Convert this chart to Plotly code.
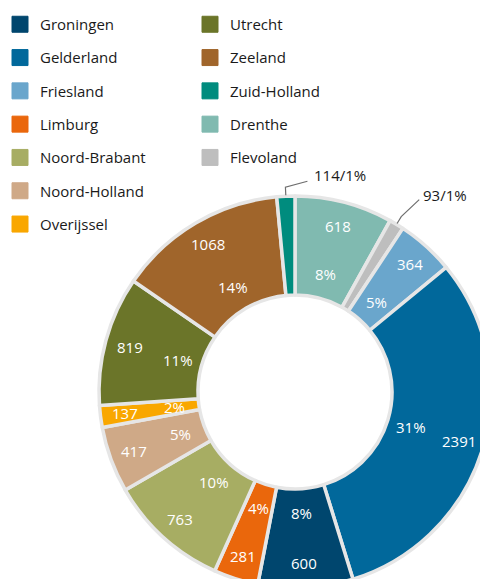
import numpy as np
import plotly.graph_objects as go

# ---------------- data ----------------
provinces = ["Drenthe", "Flevoland", "Friesland", "Gelderland", "Groningen", "Limburg",
             "Noord-Brabant", "Noord-Holland", "Overijssel", "Utrecht", "Zeeland", "Zuid-Holland"]
counts = [618, 93, 364, 2391, 600, 281, 763, 417, 137, 819, 1068, 114]

legend_col1 = ["Groningen", "Gelderland", "Friesland", "Limburg", "Noord-Brabant",
               "Noord-Holland", "Overijssel"]
legend_col2 = ["Utrecht", "Zeeland", "Zuid-Holland", "Drenthe", "Flevoland"]

outside_labels = ["Zuid-Holland", "Flevoland"]

colors = {
    "Groningen": "#00466e",
    "Gelderland": "#01689b",
    "Friesland": "#6aa6cc",
    "Limburg": "#ea670c",
    "Noord-Brabant": "#a7ad63",
    "Noord-Holland": "#cfa987",
    "Overijssel": "#f9a700",
    "Utrecht": "#6b7529",
    "Zeeland": "#a0652b",
    "Zuid-Holland": "#008c7e",
    "Drenthe": "#80bab0",
    "Flevoland": "#bebebe",
}

# ---------------- geometry (pixels) ----------------
W, H = 491, 588          # figure larger than the window so the donut is clipped as in the reference
CX, CY, R = 295, 392, 196
HOLE = 0.495
R_VALUE, R_PCT = 0.875, 0.62
FONT = "Open Sans"

def px(x):
    return x / W

def py(y):
    return 1 - y / H

vals = np.array(counts, dtype=float)
total = vals.sum()
pcts = np.round(vals / total * 100).astype(int)
mid_deg = (np.cumsum(vals) - vals / 2) / total * 360.0
mid = np.deg2rad(mid_deg)

fig = go.Figure()

fig.add_trace(go.Pie(
    labels=provinces,
    values=counts,
    sort=False,
    direction="clockwise",
    rotation=0,
    hole=HOLE,
    textinfo="none",
    hoverinfo="label+value+percent",
    showlegend=False,
    marker=dict(colors=[colors[p] for p in provinces], line=dict(color="#e6e6e6", width=3.5)),
    domain=dict(x=[px(CX - R), px(CX + R)], y=[py(CY + R), py(CY - R)]),
))

# legend entries (two columns)
for name in legend_col1:
    fig.add_trace(go.Scatter(x=[None], y=[None], mode="markers", name=name,
                             legend="legend", legendgroup=name,
                             marker=dict(symbol="square", size=16, color=colors[name],
                                         line=dict(color=colors[name], width=1))))
for name in legend_col2:
    fig.add_trace(go.Scatter(x=[None], y=[None], mode="markers", name=name,
                             legend="legend2", legendgroup=name,
                             marker=dict(symbol="square", size=16, color=colors[name],
                                         line=dict(color=colors[name], width=1))))

annotations = []
shapes = []
for i, name in enumerate(provinces):
    s, c = np.sin(mid[i]), np.cos(mid[i])
    if name in outside_labels:
        x0, y0 = CX + (R + 1) * s, CY - (R + 1) * c
        x1, y1 = CX + (R + 9) * s, CY - (R + 9) * c
        if name == "Zuid-Holland":
            x2, y2 = x1 + 22, y1 - 6
            tx, ty = x2 + 5, y2 - 6
        else:
            x2, y2 = x1 + 18, y1 - 17
            tx, ty = x2 + 2, y2 - 5
        shapes.append(dict(type="path", xref="paper", yref="paper",
                           path=f"M {px(x0)} {py(y0)} L {px(x1)} {py(y1)} L {px(x2)} {py(y2)}",
                           line=dict(color="#6e6e6e", width=1.2)))
        annotations.append(dict(x=px(tx), y=py(ty), xref="paper", yref="paper",
                                text=f"{counts[i]}/{pcts[i]}%", showarrow=False,
                                xanchor="left", yanchor="middle",
                                font=dict(family=FONT, size=15, color="#1a1a1a")))
    else:
        for rr, txt in ((R_VALUE, f"{counts[i]}"), (R_PCT, f"{pcts[i]}%")):
            annotations.append(dict(x=px(CX + rr * R * s), y=py(CY - rr * R * c),
                                    xref="paper", yref="paper", text=txt, showarrow=False,
                                    xanchor="center", yanchor="middle",
                                    font=dict(family=FONT, size=15, color="white")))

legend_style = dict(orientation="v", yanchor="top", xanchor="left",
                    font=dict(family=FONT, size=15, color="#1a1a1a"),
                    bgcolor="rgba(0,0,0,0)", borderwidth=0, tracegroupgap=10.8,
                    itemclick=False, itemdoubleclick=False)

fig.update_layout(
    width=W, height=H,
    margin=dict(l=0, r=0, t=0, b=0),
    paper_bgcolor="white", plot_bgcolor="white",
    xaxis=dict(visible=False), yaxis=dict(visible=False),
    legend=dict(x=0.0, y=py(8), **legend_style),
    legend2=dict(x=px(190), y=py(8), **legend_style),
    annotations=annotations,
    shapes=shapes,
    hovermode=False,
    font=dict(family=FONT),
)

fig.write_html("out.html",
               config={"displayModeBar": False},
               post_script="document.body.style.margin='0';document.body.style.overflow='hidden';")
